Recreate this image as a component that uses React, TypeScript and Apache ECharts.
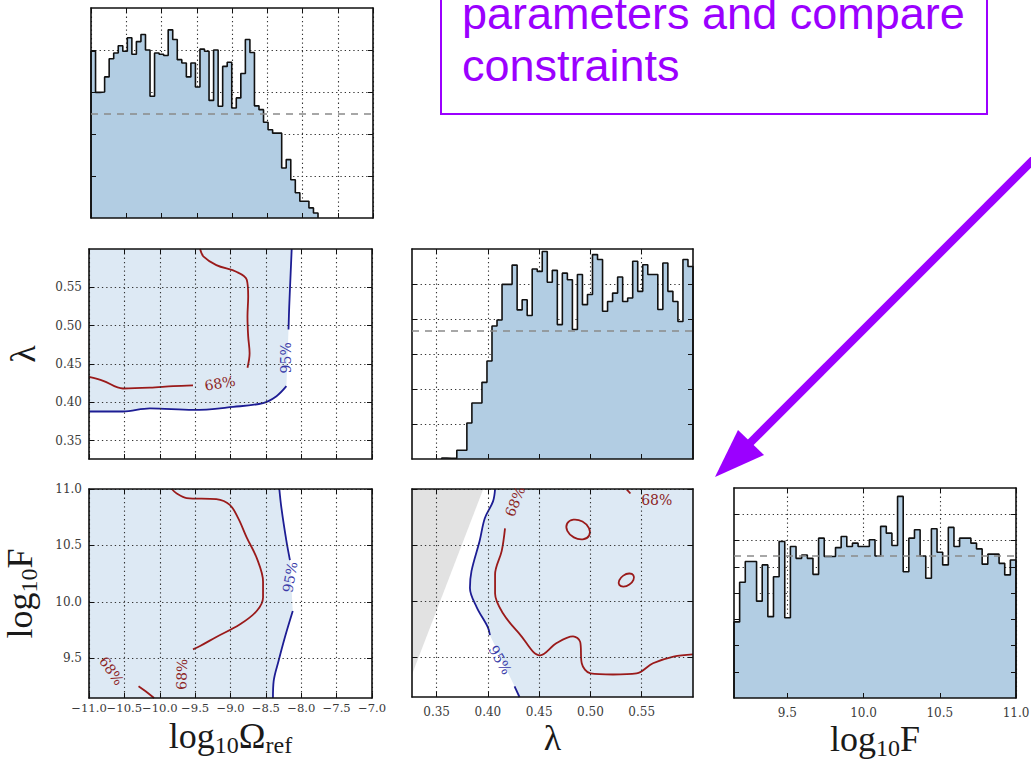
import React, { useEffect, useRef } from 'react';
import * as echarts from 'echarts';

// ---- axis ranges and tick positions ----
const OMEGA_RANGE = [-11, -7];
const LAMBDA_RANGE = [0.326, 0.6];
const LOGF_RANGE = [9.15, 11.0];

const omegaTicks = [-11, -10.5, -10, -9.5, -9, -8.5, -8, -7.5, -7];
const lambdaTicks = [0.35, 0.4, 0.45, 0.5, 0.55];
const logFTicks = [9.5, 10, 10.5, 11];

// ---- 1D marginal histograms (bin heights) ----
const omegaHistEdges = [-11, -7.78];
const omegaHist = [
  3.97, 2.99, 3.0, 3.36, 3.79, 3.93, 4.1, 3.97, 4.29, 3.9,
  4.2, 4.37, 4.0, 2.9, 3.93, 3.9, 3.87, 4.48, 4.25, 3.77,
  3.69, 3.36, 3.69, 3.12, 4.02, 3.97, 2.8, 4.0, 2.66, 3.61,
  3.71, 2.62, 2.86, 3.44, 4.25, 3.94, 2.67, 2.58, 2.28, 2.1,
  2.02, 2.02, 1.19, 1.39, 0.91, 0.6, 0.4, 0.4, 0.24, 0.12,
];
const omegaHistLevel = 2.48;

const lambdaHistEdges = [0.355, 0.6];
const lambdaHist = [
  0.03, 0.02, 0.02, 0.25, 0.25, 1.03, 1.6, 1.6, 2.19, 2.8,
  3.8, 3.97, 4.99, 4.99, 5.54, 4.26, 4.55, 4.1, 5.43, 5.36,
  5.93, 5.05, 5.39, 3.84, 5.31, 5.12, 3.7, 5.27, 4.41, 4.7,
  5.84, 5.7, 4.22, 4.5, 4.74, 5.2, 4.5, 4.6, 5.65, 4.79,
  5.55, 5.27, 5.27, 4.27, 5.6, 4.79, 4.5, 3.93, 5.7, 5.5,
];
const lambdaHistLevel = 3.67;

const logFHistEdges = [9.15, 11.0];
const logFHist = [
  2.9, 4.41, 5.2, 5.2, 3.69, 5.07, 3.1, 4.62, 5.96, 3.06,
  5.77, 5.32, 5.45, 5.32, 4.71, 6.09, 5.39, 5.39, 5.73, 6.15,
  5.77, 5.9, 5.77, 5.77, 6.03, 5.41, 6.54, 6.28, 5.81, 7.68,
  4.81, 6.09, 6.41, 5.41, 4.56, 6.45, 5.55, 5.07, 6.5, 5.77,
  6.09, 6.09, 5.9, 5.68, 5.1, 5.48, 5.48, 5.13, 4.69, 5.26,
];
const logFHistLevel = 5.41;

// ---- 2D credible-region contours: (log10 Omega_ref, lambda) ----
const omLam68a = [[-9.43, 0.6], [-9.38, 0.59], [-9.2, 0.579], [-8.91, 0.57], [-8.77, 0.56], [-8.75, 0.538], [-8.76, 0.512], [-8.75, 0.486], [-8.73, 0.464], [-8.76, 0.445]];
const omLam68b = [[-11, 0.433], [-10.8, 0.428], [-10.52, 0.418], [-10.14, 0.419], [-9.81, 0.421], [-9.53, 0.422]];
const omLam95a = [[-8.135, 0.6], [-8.15, 0.568], [-8.17, 0.525], [-8.18, 0.495]];
const omLam95b = [[-8.21, 0.421], [-8.35, 0.408], [-8.54, 0.399], [-8.96, 0.394], [-9.53, 0.39], [-10.14, 0.392], [-10.52, 0.388], [-11, 0.388]];
const omLamLabels = [
  { x: -9.15, y: 0.425, rot: 10, text: '68%', level: 68 },
  { x: -8.21, y: 0.458, rot: 90, text: '95%', level: 95 },
];

// ---- (log10 Omega_ref, log10 F) ----
const omF68a = [[-9.83, 11.0], [-9.76, 10.96], [-9.62, 10.92], [-9.2, 10.91], [-9.01, 10.86], [-8.89, 10.74], [-8.77, 10.57], [-8.63, 10.39], [-8.54, 10.18], [-8.54, 10.04], [-8.63, 9.92], [-8.87, 9.8], [-9.2, 9.69], [-9.43, 9.61], [-9.53, 9.58]];
const omF68b = [[-10.3, 9.255], [-10.2, 9.21], [-10.08, 9.15]];
const omF95a = [[-8.31, 11.0], [-8.28, 10.83], [-8.21, 10.54], [-8.16, 10.37]];
const omF95b = [[-8.12, 9.92], [-8.23, 9.69], [-8.32, 9.48], [-8.39, 9.3], [-8.4, 9.15]];
const omFLabels = [
  { x: -10.68, y: 9.39, rot: -55, text: '68%', level: 68 },
  { x: -9.69, y: 9.36, rot: 88, text: '68%', level: 68 },
  { x: -8.16, y: 10.22, rot: 80, text: '95%', level: 95 },
];

// ---- (lambda, log10 F) ----
const lamF95a = [[0.407, 11.0], [0.405, 10.89], [0.397, 10.74], [0.392, 10.54], [0.384, 10.27], [0.3825, 10.12], [0.389, 9.95], [0.4, 9.77], [0.402, 9.7]];
const lamF95b = [[0.426, 9.245], [0.4308, 9.15]];
const lamF68 = [[0.4167, 10.65], [0.4135, 10.45], [0.407, 10.24], [0.407, 10.07], [0.415, 9.89], [0.431, 9.71], [0.451, 9.52], [0.467, 9.63], [0.483, 9.69], [0.49, 9.64], [0.4915, 9.45], [0.5, 9.36], [0.522, 9.35], [0.545, 9.36], [0.561, 9.45], [0.581, 9.51], [0.6, 9.53]];
const lamF68hook = [[0.5355, 10.995], [0.539, 10.96]];
const lamF68islands = [
  { x: 0.488, y: 10.64, rx: 0.0122, ry: 0.08, rot: -0.5 },
  { x: 0.535, y: 10.19, rx: 0.0083, ry: 0.048, rot: 0.6 },
];
const lamFLabels = [
  { x: 0.4265, y: 10.89, rot: 68, text: '68%', level: 68 },
  { x: 0.5646, y: 10.9, rot: 0, text: '68%', level: 68 },
  { x: 0.412, y: 9.48, rot: -60, text: '95%', level: 95 },
];
// region excluded by the prior in the (lambda, log10 F) plane
const lamFPrior = [[0.326, 11.0], [0.3955, 11.0], [0.326, 9.35]];

// ---- styling ----
const PURPLE = '#9b00ff';
const RED = '#9a1a1a';
const BLUE = '#1d1d94';
const RED_TEXT = '#8c2424';
const BLUE_TEXT = '#3a3aa8';
const HIST_FILL = '#b2cde3';
const TINT = '#dde9f4';
const PRIOR_FILL = '#e2e2e2';
const GRID_LINE = { color: '#333333', width: 1.1, type: [1.3, 3] };

const NAME_STYLE = {
  color: '#1a1a1a',
  rich: {
    m: { fontFamily: 'Liberation Serif', fontSize: 36, lineHeight: 36, color: '#1a1a1a', verticalAlign: 'bottom', padding: [0, 0, 3, 0] },
    s: { fontFamily: 'Liberation Serif', fontSize: 24, lineHeight: 24, color: '#1a1a1a', verticalAlign: 'bottom' },
  },
};

function axis(o: any) {
  const primary = o.position === 'bottom' || o.position === 'left';
  return {
    type: 'value',
    gridIndex: o.grid,
    position: o.position,
    min: o.range[0],
    max: o.range[1],
    z: 3,
    axisLine: { show: true, onZero: false, lineStyle: { color: '#111', width: 1.6 } },
    axisTick: { show: true, inside: true, length: 5, customValues: o.ticks, lineStyle: { color: '#111', width: 1 } },
    axisLabel: {
      show: !!o.labels && primary,
      customValues: o.ticks,
      showMinLabel: true,
      showMaxLabel: true,
      hideOverlap: false,
      margin: o.margin ?? 8,
      fontFamily: 'DejaVu Serif',
      fontSize: o.labelSize ?? 12,
      color: '#3a3a3a',
      formatter: (v: number) => v.toFixed(o.decimals ?? 1).replace('-', '\u2212'),
    },
    splitLine: { show: primary, lineStyle: GRID_LINE },
    name: primary ? o.name ?? '' : '',
    nameLocation: 'middle',
    nameGap: o.nameGap ?? 0,
    nameTextStyle: NAME_STYLE,
  };
}

function axisPair(kind: 'x' | 'y', o: any) {
  return kind === 'x'
    ? [axis({ ...o, position: 'bottom' }), axis({ ...o, position: 'top' })]
    : [axis({ ...o, position: 'left' }), axis({ ...o, position: 'right' })];
}

function stepData(edges: number[], counts: number[]) {
  const w = (edges[1] - edges[0]) / counts.length;
  const pts: number[][] = [[edges[0], 0]];
  counts.forEach((c, i) => pts.push([edges[0] + i * w, c]));
  pts.push([edges[1], counts[counts.length - 1]]);
  pts.push([edges[1], 0]);
  return pts;
}

function histSeries(g: number, edges: number[], counts: number[], level: number) {
  return {
    type: 'line',
    xAxisIndex: 2 * g,
    yAxisIndex: 2 * g,
    data: stepData(edges, counts),
    step: 'end',
    symbol: 'none',
    silent: true,
    lineStyle: { color: '#111', width: 1.6 },
    areaStyle: { color: HIST_FILL, opacity: 1 },
    markLine: {
      silent: true,
      symbol: 'none',
      label: { show: false },
      lineStyle: { color: '#8a8a8a', width: 1.5, type: [7, 6] },
      data: [{ yAxis: level }],
    },
  };
}

function polySeries(g: number, pts: number[][], fill: string) {
  return {
    type: 'custom',
    xAxisIndex: 2 * g,
    yAxisIndex: 2 * g,
    silent: true,
    z: 1,
    data: [0],
    renderItem: (_p: any, api: any) => ({
      type: 'polygon',
      shape: { points: pts.map((p) => api.coord(p)) },
      style: { fill },
    }),
  };
}

function contourSeries(g: number, pts: number[][], color: string) {
  return {
    type: 'line',
    xAxisIndex: 2 * g,
    yAxisIndex: 2 * g,
    data: pts,
    symbol: 'none',
    smooth: 0.35,
    silent: true,
    z: 2,
    lineStyle: { color, width: 1.8 },
  };
}

function labelSeries(g: number, labels: any[]) {
  return {
    type: 'custom',
    xAxisIndex: 2 * g,
    yAxisIndex: 2 * g,
    silent: true,
    z: 4,
    data: labels.map((l) => [l.x, l.y, l.rot]),
    renderItem: (params: any, api: any) => {
      const l = labels[params.dataIndex];
      const c = api.coord([api.value(0), api.value(1)]);
      return {
        type: 'text',
        x: c[0],
        y: c[1],
        rotation: (api.value(2) * Math.PI) / 180,
        style: {
          text: l.text,
          fill: l.level === 68 ? RED_TEXT : BLUE_TEXT,
          font: '14px "DejaVu Serif"',
          align: 'center',
          verticalAlign: 'middle',
        },
      };
    },
  };
}

function ellipseSeries(g: number, items: any[], color: string) {
  return {
    type: 'custom',
    xAxisIndex: 2 * g,
    yAxisIndex: 2 * g,
    silent: true,
    z: 2,
    data: items.map((e) => [e.x, e.y, e.rx, e.ry, e.rot]),
    renderItem: (_p: any, api: any) => {
      const c = api.coord([api.value(0), api.value(1)]);
      const s = api.size([api.value(2), api.value(3)]);
      return {
        type: 'ellipse',
        x: c[0],
        y: c[1],
        rotation: api.value(4),
        shape: { cx: 0, cy: 0, rx: s[0], ry: s[1] },
        style: { fill: 'none', stroke: color, lineWidth: 1.8 },
      };
    },
  };
}

function buildOption() {
  const grids = [
    { left: 91, top: 8, width: 282, height: 210 },
    { left: 89, top: 249, width: 283, height: 210 },
    { left: 412, top: 249, width: 281, height: 210 },
    { left: 89, top: 489, width: 283, height: 209 },
    { left: 412, top: 489, width: 281, height: 208 },
    { left: 734, top: 488, width: 282, height: 210 },
  ].map((g) => ({ ...g, show: false, containLabel: false, outerBoundsMode: 'none' }));

  const xAxis = [
    ...axisPair('x', { grid: 0, range: OMEGA_RANGE, ticks: omegaTicks }),
    ...axisPair('x', { grid: 1, range: OMEGA_RANGE, ticks: omegaTicks }),
    ...axisPair('x', { grid: 2, range: LAMBDA_RANGE, ticks: lambdaTicks }),
    ...axisPair('x', {
      grid: 3, range: OMEGA_RANGE, ticks: omegaTicks, labels: true, decimals: 1, margin: 4, labelSize: 11.6,
      name: '{m|log}{s|10}{m|\u03A9}{s|ref}', nameGap: 23,
    }),
    ...axisPair('x', {
      grid: 4, range: LAMBDA_RANGE, ticks: lambdaTicks, labels: true, decimals: 2, margin: 9,
      name: '{m|\u03BB}', nameGap: 26,
    }),
    ...axisPair('x', {
      grid: 5, range: LOGF_RANGE, ticks: logFTicks, labels: true, decimals: 1, margin: 9,
      name: '{m|log}{s|10}{m|F}', nameGap: 26,
    }),
  ];

  const yAxis = [
    ...axisPair('y', { grid: 0, range: [0, 5], ticks: [1, 2, 3, 4] }),
    ...axisPair('y', {
      grid: 1, range: LAMBDA_RANGE, ticks: lambdaTicks, labels: true, decimals: 2, margin: 7,
      name: '{m|\u03BB}', nameGap: 45,
    }),
    ...axisPair('y', { grid: 2, range: [0, 6], ticks: [1, 2, 3, 4, 5] }),
    ...axisPair('y', {
      grid: 3, range: LOGF_RANGE, ticks: logFTicks, labels: true, decimals: 1, margin: 7,
      name: '{m|log}{s|10}{m|F}', nameGap: 48,
    }),
    ...axisPair('y', { grid: 4, range: LOGF_RANGE, ticks: logFTicks }),
    ...axisPair('y', { grid: 5, range: [0, 8], ticks: [1, 2, 3, 4, 5, 6, 7] }),
  ];

  const omLamTint = [[-11, 0.6], ...omLam95a, ...omLam95b, [-11, 0.388]];
  const omFTint = [[-11, 11.0], ...omF95a, ...omF95b, [-11, 9.15]];
  const lamFTint = [...lamF95a, ...lamF95b, [0.6, 9.15], [0.6, 11.0]];

  const series = [
    histSeries(0, omegaHistEdges, omegaHist, omegaHistLevel),
    histSeries(2, lambdaHistEdges, lambdaHist, lambdaHistLevel),
    histSeries(5, logFHistEdges, logFHist, logFHistLevel),

    polySeries(1, omLamTint, TINT),
    contourSeries(1, omLam68a, RED),
    contourSeries(1, omLam68b, RED),
    contourSeries(1, omLam95a, BLUE),
    contourSeries(1, omLam95b, BLUE),
    labelSeries(1, omLamLabels),

    polySeries(3, omFTint, TINT),
    contourSeries(3, omF68a, RED),
    contourSeries(3, omF68b, RED),
    contourSeries(3, omF95a, BLUE),
    contourSeries(3, omF95b, BLUE),
    labelSeries(3, omFLabels),

    polySeries(4, lamFTint, TINT),
    polySeries(4, lamFPrior, PRIOR_FILL),
    contourSeries(4, lamF95a, BLUE),
    contourSeries(4, lamF95b, BLUE),
    contourSeries(4, lamF68, RED),
    contourSeries(4, lamF68hook, RED),
    ellipseSeries(4, lamF68islands, RED),
    labelSeries(4, lamFLabels),
  ];

  const graphic = [
    {
      type: 'rect', z: 10, silent: true,
      shape: { x: 441, y: -20, width: 546, height: 134 },
      style: { fill: 'none', stroke: PURPLE, lineWidth: 2 },
    },
    {
      type: 'text', z: 10, silent: true, x: 462, y: 13,
      style: { text: 'parameters and compare', font: '45px "Liberation Sans"', fill: PURPLE, verticalAlign: 'middle' },
    },
    {
      type: 'text', z: 10, silent: true, x: 462, y: 65,
      style: { text: 'constraints', font: '45px "Liberation Sans"', fill: PURPLE, verticalAlign: 'middle' },
    },
    {
      type: 'line', z: 10, silent: true,
      shape: { x1: 1045, y1: 148, x2: 748, y2: 445 },
      style: { stroke: PURPLE, lineWidth: 8 },
    },
    {
      type: 'polygon', z: 10, silent: true,
      shape: { points: [[715, 477], [738, 430], [764, 455]] },
      style: { fill: PURPLE },
    },
  ];

  return {
    animation: false,
    backgroundColor: '#ffffff',
    grid: grids,
    xAxis,
    yAxis,
    series,
    graphic,
  };
}

export default function App() {
  const ref = useRef<HTMLDivElement>(null);
  useEffect(() => {
    const chart = echarts.init(ref.current as HTMLDivElement, undefined, { renderer: 'svg' });
    chart.setOption(buildOption() as any);
    return () => chart.dispose();
  }, []);
  return (
    <div
      ref={ref}
      style={{ position: 'absolute', left: 0, top: 0, width: 1031, height: 763, background: '#fff' }}
    />
  );
}
